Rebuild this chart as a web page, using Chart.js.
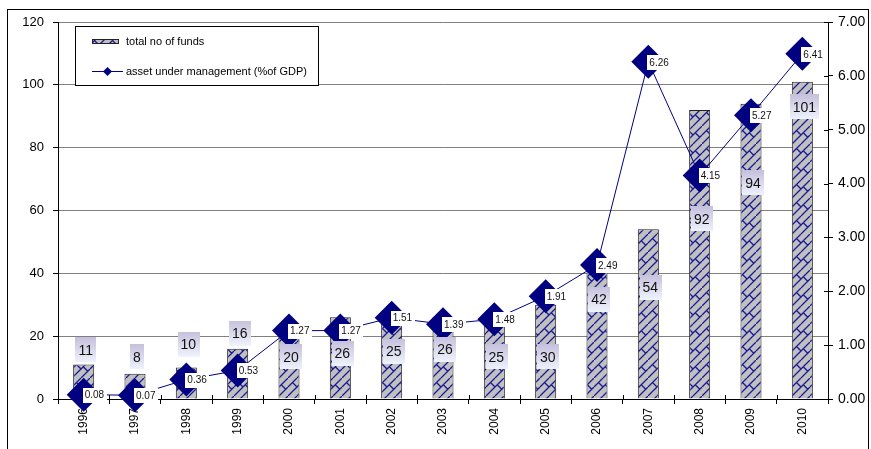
<!DOCTYPE html>
<html>
<head>
<meta charset="utf-8">
<script src="https://cdn.jsdelivr.net/npm/chart.js@4.4.1/dist/chart.umd.min.js"></script>
<style>
  html, body { margin: 0; padding: 0; background: #fff; }
</style>
</head>
<body>
<canvas id="fundsChart" width="871" height="449"></canvas>
<script>
const years = ["1996", "1997", "1998", "1999", "2000", "2001", "2002", "2003",
  "2004", "2005", "2006", "2007", "2008", "2009", "2010"];
const totalFunds = [11, 8, 10, 16, 20, 26, 25, 26, 25, 30, 42, 54, 92, 94, 101];
const assetsGdp = [0.08, 0.07, 0.36, 0.53, 1.27, 1.27, 1.51, 1.39, 1.48, 1.91,
  2.49, 6.26, 4.15, 5.27, 6.41];
const fundTicks = [0, 20, 40, 60, 80, 100, 120];
const assetTicks = [0, 1, 2, 3, 4, 5, 6, 7];

// height (in fund-count units) at which each count label box is centred
const fundLabelAt = [15.6, 13.4, 17.5, 21, 13.4, 14.6, 15.2, 15.9, 13.4, 13.4,
  31.8, 35.6, 57.3, 68.8, 93];

const FONT = "'Liberation Sans', Arial, sans-serif";
const NAVY = "#000080";

// grey fill with a navy diagonal-brick hatch
function brickPattern() {
  const s = 18;
  const c = document.createElement("canvas");
  c.width = s;
  c.height = s;
  const g = c.getContext("2d");
  g.fillStyle = "#c0c0c0";
  g.fillRect(0, 0, s, s);
  g.strokeStyle = "#1a1a96";
  g.lineWidth = 1.3;
  g.beginPath();
  g.moveTo(0, s / 2); g.lineTo(s / 2, 0);
  g.moveTo(0, s); g.lineTo(s, 0);
  g.moveTo(s / 2, s); g.lineTo(s, s / 2);
  g.moveTo(s / 4, s / 4); g.lineTo(s / 2, s / 2);
  g.moveTo(s * 0.625, s * 0.375); g.lineTo(s * 0.875, s * 0.625);
  g.stroke();
  return g.createPattern(c, "repeat");
}
const brick = brickPattern();

const overlay = {
  id: "overlay",
  afterDatasetsDraw(chart) {
    const ctx = chart.ctx;
    const area = chart.chartArea;
    const yF = chart.scales.yFunds;
    const yA = chart.scales.yAssets;
    const x = chart.scales.x;
    ctx.save();

    // short inner halves of the axis tick marks
    ctx.strokeStyle = "#000";
    ctx.lineWidth = 1;
    ctx.beginPath();
    assetTicks.forEach((v) => {
      const y = Math.round(yA.getPixelForValue(v)) + 0.5;
      ctx.moveTo(area.right - 4, y);
      ctx.lineTo(area.right, y);
    });
    for (let i = 0; i <= years.length; i++) {
      const px = Math.round(x.getPixelForValue(i - 0.5)) + 0.5;
      ctx.moveTo(px, area.bottom - 4);
      ctx.lineTo(px, area.bottom);
    }
    ctx.stroke();

    // fund-count labels
    const bars = chart.getDatasetMeta(1);
    ctx.font = "14px " + FONT;
    ctx.textAlign = "center";
    ctx.textBaseline = "middle";
    bars.data.forEach((bar, i) => {
      const txt = String(totalFunds[i]);
      const cx = bar.x + 2;
      const cy = yF.getPixelForValue(fundLabelAt[i]);
      const w = ctx.measureText(txt).width + 6;
      const h = 25;
      const grad = ctx.createLinearGradient(0, cy - h / 2, 0, cy + h / 2);
      grad.addColorStop(0, "#c6c0dc");
      grad.addColorStop(1, "#eef3fc");
      ctx.fillStyle = grad;
      ctx.fillRect(Math.round(cx - w / 2), Math.round(cy - h / 2), Math.round(w), h);
      ctx.fillStyle = "#111";
      ctx.fillText(txt, cx, cy + 1);
    });

    // asset labels beside each marker
    const pts = chart.getDatasetMeta(0);
    ctx.font = "10px " + FONT;
    ctx.textAlign = "left";
    pts.data.forEach((pt, i) => {
      const txt = assetsGdp[i].toFixed(2);
      const tw = ctx.measureText(txt).width;
      ctx.fillStyle = "#fff";
      ctx.fillRect(Math.round(pt.x - 1), Math.round(pt.y - 7), Math.round(tw + 5), 15);
      ctx.fillStyle = "#111";
      ctx.fillText(txt, pt.x + 1, pt.y + 1);
    });
    ctx.restore();
  },
  afterDraw(chart) {
    const ctx = chart.ctx;
    ctx.save();

    // legend box
    ctx.fillStyle = "#fff";
    ctx.fillRect(75.5, 26.5, 243, 59);
    ctx.strokeStyle = "#000";
    ctx.lineWidth = 1;
    ctx.strokeRect(75.5, 26.5, 243, 59);

    ctx.fillStyle = brick;
    ctx.fillRect(92, 39, 27, 5);
    ctx.strokeStyle = "#222";
    ctx.strokeRect(92.5, 39.5, 26, 4);

    ctx.strokeStyle = NAVY;
    ctx.beginPath();
    ctx.moveTo(92, 71.5);
    ctx.lineTo(123, 71.5);
    ctx.stroke();
    ctx.fillStyle = NAVY;
    ctx.beginPath();
    ctx.moveTo(107.5, 67);
    ctx.lineTo(112, 71.5);
    ctx.lineTo(107.5, 76);
    ctx.lineTo(103, 71.5);
    ctx.closePath();
    ctx.fill();

    ctx.fillStyle = "#000";
    ctx.font = "11px " + FONT;
    ctx.textAlign = "left";
    ctx.textBaseline = "middle";
    ctx.fillText("total no of funds", 126, 42);
    ctx.fillText("asset under management (%of GDP)", 126, 71.5);

    // outer frame
    ctx.strokeStyle = "#000";
    ctx.strokeRect(7.5, 9.5, 861, 460);
    ctx.restore();
  },
};

new Chart(document.getElementById("fundsChart"), {
  data: {
    labels: years,
    datasets: [
      {
        type: "line",
        label: "asset under management (%of GDP)",
        data: assetsGdp,
        yAxisID: "yAssets",
        borderColor: NAVY,
        backgroundColor: NAVY,
        borderWidth: 1,
        pointStyle: "rectRot",
        pointRadius: 17,
        pointBorderWidth: 0,
        tension: 0,
        clip: false,
        order: 0,
      },
      {
        type: "bar",
        label: "total no of funds",
        data: totalFunds,
        yAxisID: "yFunds",
        backgroundColor: brick,
        borderColor: "#222",
        borderWidth: 1,
        barPercentage: 0.41,
        categoryPercentage: 1,
        order: 1,
      },
    ],
  },
  options: {
    responsive: false,
    animation: false,
    layout: { padding: { top: 22 } },
    plugins: {
      legend: { display: false },
      tooltip: { enabled: false },
    },
    scales: {
      x: {
        grid: { offset: true, drawOnChartArea: false, tickLength: 5, color: "#000" },
        border: { color: "#000" },
        ticks: {
          minRotation: 90,
          maxRotation: 90,
          padding: 4,
          color: "#000",
          font: { family: FONT, size: 12 },
        },
        afterFit: (s) => { s.height = 50; },
      },
      yFunds: {
        position: "left",
        min: 0,
        max: 120,
        grid: { color: "#808080", tickColor: "#000", tickLength: 5 },
        border: { color: "#000" },
        ticks: { padding: 9, color: "#000", font: { family: FONT, size: 13 } },
        afterBuildTicks: (s) => { s.ticks = fundTicks.map((v) => ({ value: v })); },
        afterFit: (s) => { s.width = 58; },
      },
      yAssets: {
        position: "right",
        min: 0,
        max: 7,
        grid: { drawOnChartArea: false, color: "#000", tickLength: 5 },
        border: { color: "#000" },
        ticks: {
          padding: 5,
          color: "#000",
          font: { family: FONT, size: 14 },
          callback: (v) => Number(v).toFixed(2),
        },
        afterBuildTicks: (s) => { s.ticks = assetTicks.map((v) => ({ value: v })); },
        afterFit: (s) => { s.width = 43; },
      },
    },
  },
  plugins: [overlay],
});
</script>
</body>
</html>
